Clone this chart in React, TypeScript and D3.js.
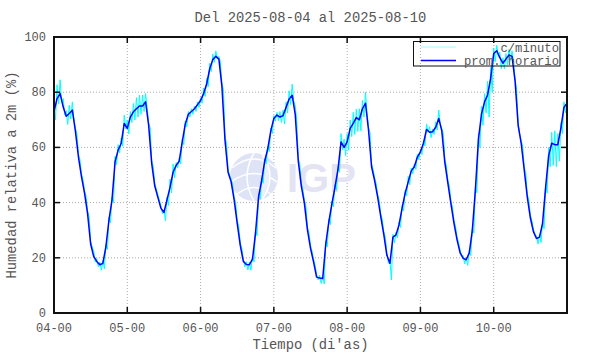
import { useEffect, useRef } from "react";
import * as d3 from "d3";

// humedad relativa, promedio horario (%), una lista por dia
const dia04 = [73, 77.7, 79.5, 74.7, 71.3, 72.3, 73.5, 66, 56.6, 49.4, 43.4, 36, 25, 20.5, 18.7, 17.5, 18, 24, 33.7, 41, 54.8, 59, 61.4, 68.7];
const dia05 = [66.9, 71, 72.9, 74, 75, 75, 76.5, 68, 54.2, 46, 42, 38, 36.4, 41, 45.5, 51, 53.5, 55, 62, 68.5, 72, 73, 74, 75.5];
const dia06 = [77, 79.5, 83, 88.5, 91.8, 93, 92, 82, 62.7, 51, 47.6, 41, 32.5, 24.5, 18.7, 17.6, 17.5, 19.5, 29, 42.2, 48, 55, 59.5, 66];
const dia07 = [70.5, 71.7, 71, 71.5, 74.5, 77.5, 78.9, 72, 55, 46, 39.8, 30.1, 23.5, 18.5, 13, 12.7, 12.5, 25, 33, 39.5, 45.5, 52, 62, 60];
const dia08 = [62, 66.9, 68.7, 70.8, 70, 74, 76, 66.3, 53, 48, 42, 35, 28.5, 21, 18, 27.5, 28.3, 32, 38, 43.4, 47.5, 51.5, 53, 56.5];
const dia09 = [58.4, 61.5, 66.5, 65.5, 65.7, 67.3, 70.5, 66, 54.5, 47, 39.5, 32.5, 26.5, 21.8, 19.8, 19.3, 21.8, 30, 44.6, 63, 72, 76.5, 79, 85];
const dia10 = [94, 95, 92.5, 90.5, 92, 93.5, 93, 84, 68, 61.5, 51.8, 42, 34.5, 29.5, 27, 27.5, 32.5, 45.5, 57, 61.5, 61, 61, 67, 74.5];
const finalValue = 76;

// dispersion de los datos c/minuto respecto al promedio (max arriba / min abajo)
const upDev = [
  3, 5, 5, 3, 2, 3, 3, 1, 1, 1, 1, 1, 1, 2, 1, 1, 1, 1, 1, 1, 2, 2, 2, 3,
  3, 2, 3, 4, 4, 4, 3, 1, 1, 1, 1, 1, 1, 1, 3, 3, 1, 1, 1, 1, 1, 1, 1, 1,
  1, 2, 2, 2, 2, 2, 1, 1, 1, 1, 1, 1, 1, 1, 1, 1, 1, 1, 1, 1, 1, 1, 1, 1,
  1, 1, 2, 2, 2, 3, 4, 3, 1, 1, 1, 1, 1, 1, 1, 1, 1, 1, 1, 1, 1, 1, 3, 3,
  3, 3, 4, 3, 4, 3, 4, 1, 1, 1, 1, 1, 1, 1, 1, 1, 1, 1, 1, 1, 2, 1, 1, 1,
  1, 1, 2, 2, 1, 2, 3, 1, 1, 1, 1, 1, 1, 1, 1, 1, 1, 1, 1, 2, 3, 3, 5, 4,
  2, 2, 2, 2, 2, 2, 2, 1, 1, 1, 1, 1, 1, 1, 1, 1, 1, 1, 3, 4, 5, 4, 2, 2,
  1,
];
const downDev = [
  3, 2, 3, 3, 3, 2, 3, 1, 1, 1, 1, 1, 1, 2, 2, 2, 2, 1, 1, 1, 1, 1, 1, 2,
  2, 2, 3, 3, 3, 2, 2, 1, 1, 1, 1, 2, 3, 2, 2, 2, 1, 1, 1, 1, 1, 1, 1, 1,
  1, 1, 1, 1, 1, 1, 1, 1, 1, 1, 1, 1, 1, 1, 2, 2, 2, 1, 1, 1, 1, 1, 1, 1,
  1, 2, 2, 3, 2, 2, 2, 2, 1, 1, 1, 1, 1, 1, 1, 2, 2, 1, 1, 1, 1, 1, 3, 3,
  3, 3, 4, 5, 4, 3, 3, 1, 1, 1, 1, 1, 1, 3, 6, 2, 1, 1, 1, 1, 1, 1, 1, 1,
  1, 1, 1, 2, 1, 1, 2, 1, 1, 1, 1, 1, 1, 1, 2, 2, 1, 1, 1, 3, 4, 4, 8, 5,
  3, 2, 4, 2, 2, 2, 2, 3, 3, 1, 1, 1, 1, 1, 2, 2, 2, 2, 4, 8, 8, 6, 2, 2,
  1,
];

const xTickHours = [0, 24, 48, 72, 96, 120, 144, 168];
const xTickLabels = ["04-00", "05-00", "06-00", "07-00", "08-00", "09-00", "10-00", ""];
const yTicks = [0, 20, 40, 60, 80, 100];

const W = 590;
const H = 354;
const FONT = "'Liberation Mono', 'DejaVu Sans Mono', monospace";
const TXT = "#555";

export default function App() {
  const svgRef = useRef<SVGSVGElement>(null);

  useEffect(() => {
    if (!svgRef.current) return;
    const hourly = [...dia04, ...dia05, ...dia06, ...dia07, ...dia08, ...dia09, ...dia10, finalValue];

    const x = d3.scaleLinear().domain([0, 168]).range([54, 567]);
    const y = d3.scaleLinear().domain([0, 100]).range([313, 37]);

    const svg = d3.select(svgRef.current);
    svg.selectAll("*").remove();

    // grilla punteada
    const grid = svg.append("g").attr("stroke", "#aaa").attr("stroke-dasharray", "1,2").attr("stroke-width", 1);
    xTickHours.slice(1, -1).forEach((h) => {
      grid.append("line").attr("x1", x(h)).attr("x2", x(h)).attr("y1", y(0)).attr("y2", y(100));
    });
    yTicks.slice(1, -1).forEach((v) => {
      grid.append("line").attr("x1", x(0)).attr("x2", x(168)).attr("y1", y(v)).attr("y2", y(v));
    });

    // marca de agua IGP
    const wm = svg.append("g");
    wm.append("circle").attr("cx", 254).attr("cy", 177).attr("r", 24).attr("fill", "#dfe3f6");
    wm.append("path").attr("d", "M232,168 Q254,150 276,168").attr("fill", "none").attr("stroke", "#fff").attr("stroke-width", 1.5);
    wm.append("path").attr("d", "M231,182 Q254,165 277,182").attr("fill", "none").attr("stroke", "#fff").attr("stroke-width", 1.5);
    wm.append("path").attr("d", "M236,195 Q254,180 272,195").attr("fill", "none").attr("stroke", "#fff").attr("stroke-width", 1.5);
    wm.append("path").attr("d", "M254,153 Q240,177 254,201").attr("fill", "none").attr("stroke", "#fff").attr("stroke-width", 1.5);
    wm.append("path").attr("d", "M262,154 Q278,177 262,200").attr("fill", "#e9f0fc").attr("stroke", "#fff").attr("stroke-width", 1.5);
    wm.append("text")
      .attr("x", 287).attr("y", 192)
      .attr("font-family", "'Liberation Sans', Arial, sans-serif")
      .attr("font-weight", "bold").attr("font-size", 40)
      .attr("fill", "#e3e3f4").text("IGP");

    // datos c/minuto (envolvente max/min de cada hora)
    const cyanPts: [number, number][] = [];
    hourly.forEach((v, i) => {
      cyanPts.push([i, v + upDev[i]]);
      if (i < hourly.length - 1) cyanPts.push([i + 0.5, v - downDev[i]]);
    });
    const line = d3.line<[number, number]>().x((d) => x(d[0])).y((d) => y(d[1]));
    svg.append("path").attr("d", line(cyanPts)).attr("fill", "none").attr("stroke", "#00ffff").attr("stroke-width", 1);

    // promedio horario
    const blueLine = d3.line<number>().x((_, i) => x(i)).y((d) => y(d));
    svg.append("path").attr("d", blueLine(hourly)).attr("fill", "none").attr("stroke", "#0000ff").attr("stroke-width", 1.5).attr("stroke-linejoin", "round");

    // marco y marcas
    svg.append("rect").attr("x", x(0)).attr("y", y(100)).attr("width", x(168) - x(0)).attr("height", y(0) - y(100))
      .attr("fill", "none").attr("stroke", "#111").attr("stroke-width", 2);
    const ticks = svg.append("g").attr("stroke", "#111").attr("stroke-width", 1.5);
    xTickHours.slice(1, -1).forEach((h) => {
      ticks.append("line").attr("x1", x(h)).attr("x2", x(h)).attr("y1", y(0)).attr("y2", y(0) - 6);
      ticks.append("line").attr("x1", x(h)).attr("x2", x(h)).attr("y1", y(100)).attr("y2", y(100) + 6);
    });
    yTicks.slice(1, -1).forEach((v) => {
      ticks.append("line").attr("x1", x(0)).attr("x2", x(0) + 6).attr("y1", y(v)).attr("y2", y(v));
      ticks.append("line").attr("x1", x(168)).attr("x2", x(168) - 6).attr("y1", y(v)).attr("y2", y(v));
    });

    // etiquetas
    const txt = svg.append("g").attr("font-family", FONT).attr("fill", TXT);
    xTickHours.forEach((h, i) => {
      txt.append("text").attr("x", x(h)).attr("y", 332).attr("text-anchor", "middle").attr("font-size", 12).text(xTickLabels[i]);
    });
    yTicks.forEach((v) => {
      txt.append("text").attr("x", 46).attr("y", y(v) + 4).attr("text-anchor", "end").attr("font-size", 12).text(v);
    });
    txt.append("text").attr("x", 310.5).attr("y", 22).attr("text-anchor", "middle").attr("font-size", 13.8)
      .text("Del 2025-08-04 al 2025-08-10");
    txt.append("text").attr("x", 310.5).attr("y", 349).attr("text-anchor", "middle").attr("font-size", 13.8)
      .text("Tiempo (di'as)");
    txt.append("text").attr("transform", "translate(16,175) rotate(-90)").attr("text-anchor", "middle").attr("font-size", 13.8)
      .text("Humedad relativa a 2m (%)");

    // leyenda
    const lg = svg.append("g");
    lg.append("rect").attr("x", 413.5).attr("y", 41.5).attr("width", 146.5).attr("height", 24.5)
      .attr("fill", "none").attr("stroke", "#111").attr("stroke-width", 1);
    lg.append("line").attr("x1", 421).attr("x2", 456).attr("y1", 47).attr("y2", 47).attr("stroke", "#9ff").attr("stroke-width", 1);
    lg.append("line").attr("x1", 421).attr("x2", 456).attr("y1", 60.5).attr("y2", 60.5).attr("stroke", "#0000ff").attr("stroke-width", 1.5);
    lg.append("text").attr("x", 559).attr("y", 52).attr("text-anchor", "end").attr("font-family", FONT).attr("font-size", 12.2).attr("fill", TXT).text("c/minuto");
    lg.append("text").attr("x", 559).attr("y", 64.5).attr("text-anchor", "end").attr("font-family", FONT).attr("font-size", 12.2).attr("fill", TXT).text("prom. horario");
  }, []);

  return (
    <div style={{ position: "absolute", left: 0, top: 0, width: W, height: H, background: "#fff" }}>
      <svg ref={svgRef} width={W} height={H} />
    </div>
  );
}
